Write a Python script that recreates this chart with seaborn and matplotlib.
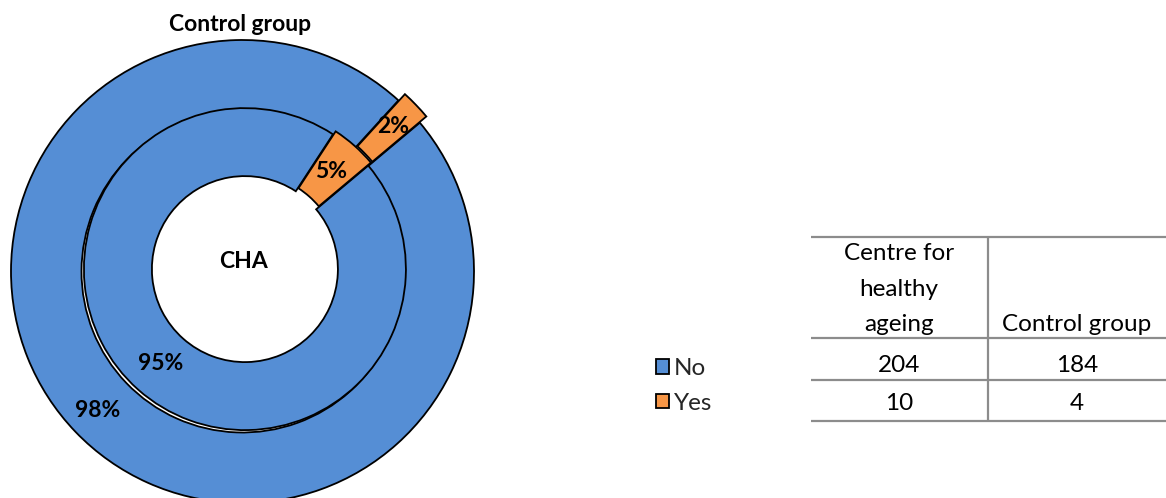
import matplotlib
matplotlib.use("Agg")
import matplotlib.pyplot as plt
import seaborn as sns

# ---------------- data ----------------
answers = ["No", "Yes"]
cha_counts = [204, 10]          # Centre for healthy ageing (inner ring)
control_counts = [184, 4]       # Control group (outer ring)
table_cols = ["Centre for\nhealthy\nageing", "Control group"]
inner_label = "CHA"
outer_title = "Control group"

# ---------------- style ----------------
sns.set_theme(style="white")
plt.rcParams["font.family"] = ["Lato", "DejaVu Sans"]
colors = sns.color_palette(["#558ED5", "#F79646"])

W, H = 1166, 498
fig = plt.figure(figsize=(W / 100, H / 100), dpi=100)
ax = fig.add_axes([0, 0, 1, 1])


def yp(y):
    return H - y


cx, cy = 242.5, 271.5
edge = dict(edgecolor="black", linewidth=1.3)
lbl = dict(fontsize=16.5, fontweight="bold", color="black")

# outer ring: control group
w_out, _, _ = ax.pie(control_counts, colors=colors, startangle=40, counterclock=False,
                     radius=231.5, center=(cx, yp(cy)), explode=[0, 9],
                     wedgeprops=dict(width=70.5, **edge),
                     autopct="%.0f%%", pctdistance=0.865, textprops=lbl, frame=True)
# inner ring: CHA
ax.pie(cha_counts, colors=colors, startangle=40, counterclock=False,
       radius=161, center=(cx + 2.4, yp(cy) + 2.4), explode=[0, 4],
       wedgeprops=dict(width=68, **edge),
       autopct="%.0f%%", pctdistance=0.785, textprops=lbl, frame=True)
ax.set_xlim(0, W)
ax.set_ylim(0, H)
ax.set_aspect("equal")
ax.axis("off")

ax.text(cx + 1.5, yp(262), inner_label, ha="center", va="center", **lbl)
ax.text(240, yp(24), outer_title, ha="center", va="center", **lbl)

# legend
leg = ax.legend(w_out, answers, loc="center left", bbox_to_anchor=(656, yp(386)),
                bbox_transform=ax.transData, frameon=False, fontsize=17.5,
                handlelength=0.55, handleheight=0.55, handletextpad=0.2,
                labelspacing=0.55, borderpad=0, borderaxespad=0)

# data table
gray = "#8C8C8C"
x0, x1, xdiv = 811, 1166, 988
col_centres = [899, 1077]
for y in [237, 338, 380, 421]:
    ax.plot([x0, x1], [yp(y), yp(y)], color=gray, lw=1.6, solid_capstyle="butt")
ax.plot([xdiv, xdiv], [yp(237), yp(421)], color=gray, lw=1.6, solid_capstyle="butt")

tfont = dict(fontsize=17.5, color="black")
for xc, head in zip(col_centres, table_cols):
    ax.text(xc, yp(335), head, ha="center", va="bottom", multialignment="center",
            linespacing=1.85, **tfont)
row_y = [365, 403]
for ri, yrow in enumerate(row_y):
    for xc, series in zip(col_centres, [cha_counts, control_counts]):
        ax.text(xc, yp(yrow), str(series[ri]), ha="center", va="center", **tfont)

fig.savefig("out.png", dpi=100)
